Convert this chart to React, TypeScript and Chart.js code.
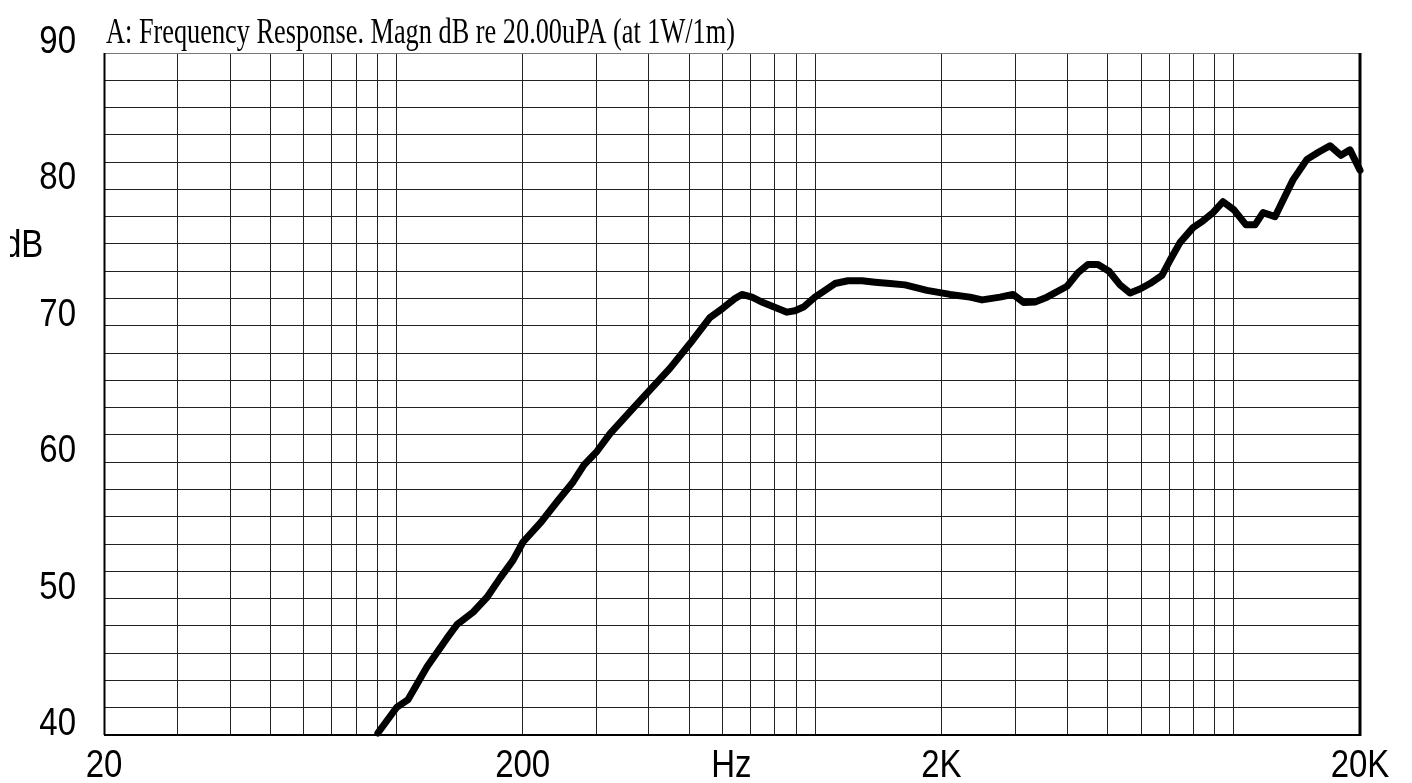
import React, { useEffect, useRef } from "react";
import { Chart, registerables } from "chart.js";

Chart.register(...registerables);

const titleText = "A: Frequency Response. Magn dB re 20.00uPA (at 1W/1m)";

const freqs = [
  90.2, 100.2, 106.5, 118.2, 131.9, 139.4, 152.2, 164.4, 176.6, 189.6,
  200.4, 221.3, 241.6, 263.9, 280.3, 301, 323.4, 361, 403, 450,
  502, 560, 602, 643, 668, 706, 750, 856, 894, 940,
  998, 1055, 1114, 1197, 1293, 1389, 1508, 1638, 1848, 2098,
  2342, 2502, 2762, 2966, 3151, 3348, 3576, 3993, 4243, 4481,
  4734, 5030, 5344, 5646, 5964, 6302, 6730, 7033, 7430, 7982,
  8434, 8912, 9417, 10000, 10685, 11228, 11733, 12532, 13096, 13836,
  14938, 15872, 16955, 18018, 18928, 20000,
];

const dbValues = [
  40.15, 42.05, 42.6, 45.0, 47.1, 48.1, 49.0, 50.1, 51.5, 52.8,
  54.15, 55.6, 57.1, 58.55, 59.8, 60.8, 62.1, 63.7, 65.3, 66.9,
  68.7, 70.6, 71.3, 72.0, 72.3, 72.1, 71.7, 71.0, 71.1, 71.4,
  72.1, 72.6, 73.1, 73.3, 73.3, 73.2, 73.1, 73.0, 72.6, 72.3,
  72.1, 71.9, 72.1, 72.3, 71.7, 71.75, 72.1, 72.9, 73.9, 74.5,
  74.5, 74.0, 73.0, 72.4, 72.7, 73.1, 73.7, 74.8, 76.1, 77.2,
  77.7, 78.3, 79.1, 78.5, 77.4, 77.4, 78.3, 78.0, 79.2, 80.7,
  82.2, 82.7, 83.2, 82.5, 82.9, 81.4,
];

const xGridTicks = [
  20, 30, 40, 50, 60, 70, 80, 90, 100,
  200, 300, 400, 500, 600, 700, 800, 900, 1000,
  2000, 3000, 4000, 5000, 6000, 7000, 8000, 9000, 10000, 20000,
];

const xLabelValues = [20, 200, 2000, 20000];
const xLabelTexts = ["20", "200", "2K", "20K"];
const xUnitValue = 630;
const xUnitText = "Hz";

const yLabelValues = [40, 50, 60, 70, 80, 90];
const yUnitText = "dB";

const textPlugin = {
  id: "textPlugin",
  beforeDatasetsDraw(chart: any) {
    const { ctx, chartArea } = chart;
    const { left, right, top, bottom } = chartArea;
    ctx.save();
    ctx.strokeStyle = "#777";
    ctx.lineWidth = 1;
    ctx.beginPath();
    ctx.moveTo(left, top + 0.5);
    ctx.lineTo(right, top + 0.5);
    ctx.stroke();
    ctx.strokeStyle = "#000";
    ctx.lineWidth = 2;
    ctx.beginPath();
    ctx.moveTo(left + 0.5, top);
    ctx.lineTo(left + 0.5, bottom);
    ctx.stroke();
    ctx.lineWidth = 2;
    ctx.beginPath();
    ctx.moveTo(left, bottom);
    ctx.lineTo(right, bottom);
    ctx.stroke();
    ctx.lineWidth = 3;
    ctx.beginPath();
    ctx.moveTo(right, top);
    ctx.lineTo(right, bottom + 1);
    ctx.stroke();
    ctx.restore();
  },
  afterDraw(chart: any) {
    const ctx = chart.ctx;
    const xs = chart.scales.x;
    const ys = chart.scales.y;
    const vScale = 1.18;
    ctx.save();
    ctx.fillStyle = "#000";
    ctx.textBaseline = "alphabetic";

    // title
    ctx.save();
    ctx.font = "36px 'Liberation Serif'";
    const w = ctx.measureText(titleText).width;
    ctx.translate(106, 43);
    ctx.scale(629 / w, 1);
    ctx.textAlign = "left";
    ctx.fillText(titleText, 0, 0);
    ctx.restore();

    ctx.font = "33px 'Liberation Sans'";

    // y labels
    ctx.textAlign = "right";
    yLabelValues.forEach((v) => {
      const y = ys.getPixelForValue(v);
      ctx.save();
      ctx.translate(76, y);
      ctx.scale(1, vScale);
      ctx.fillText(String(v), 0, 0);
      ctx.restore();
    });

    // dB
    ctx.save();
    ctx.beginPath();
    ctx.rect(10, 200, 80, 80);
    ctx.clip();
    ctx.textAlign = "left";
    ctx.translate(3, 257);
    ctx.scale(1, vScale);
    ctx.fillText(yUnitText, 0, 0);
    ctx.restore();

    // x labels
    ctx.textAlign = "center";
    xLabelValues.forEach((v, i) => {
      const x = xs.getPixelForValue(v);
      ctx.save();
      ctx.translate(x, 777);
      ctx.scale(1, vScale);
      ctx.fillText(xLabelTexts[i], 0, 0);
      ctx.restore();
    });
    ctx.save();
    ctx.translate(xs.getPixelForValue(xUnitValue), 777);
    ctx.scale(1, vScale);
    ctx.fillText(xUnitText, 0, 0);
    ctx.restore();

    ctx.restore();
  },
};

export default function App() {
  const canvasRef = useRef<HTMLCanvasElement | null>(null);

  useEffect(() => {
    const canvas = canvasRef.current;
    if (!canvas) return;
    const chart = new Chart(canvas, {
      type: "line",
      data: {
        datasets: [
          {
            data: freqs.map((f, i) => ({ x: f, y: dbValues[i] })),
            borderColor: "#000",
            borderWidth: 7,
            pointRadius: 0,
            tension: 0,
            fill: false,
            borderJoinStyle: "round",
            borderCapStyle: "round",
            clip: 6,
          } as any,
        ],
      },
      options: {
        responsive: false,
        animation: false,
        devicePixelRatio: 1,
        layout: { padding: { left: 104, right: 52, top: 53, bottom: 48 } },
        plugins: {
          legend: { display: false },
          tooltip: { enabled: false },
          title: { display: false },
        },
        scales: {
          x: {
            type: "logarithmic",
            min: 20,
            max: 20000,
            ticks: { display: false, autoSkip: false },
            grid: { color: "#222", lineWidth: 1, drawTicks: false },
            border: { display: false },
            afterBuildTicks: (scale: any) => {
              scale.ticks = xGridTicks.map((v) => ({ value: v }));
            },
            afterFit: (scale: any) => {
              scale.height = 0;
            },
          },
          y: {
            type: "linear",
            min: 40,
            max: 90,
            ticks: { display: false, stepSize: 2 },
            grid: { color: "#222", lineWidth: 1, drawTicks: false },
            border: { display: false },
            afterFit: (scale: any) => {
              scale.width = 0;
            },
          },
        },
      } as any,
      plugins: [textPlugin],
    });
    return () => chart.destroy();
  }, []);

  return (
    <div style={{ position: "absolute", left: 0, top: 0, width: 1412, height: 783, background: "#fff" }}>
      <canvas ref={canvasRef} width={1412} height={783} style={{ display: "block" }} />
    </div>
  );
}
